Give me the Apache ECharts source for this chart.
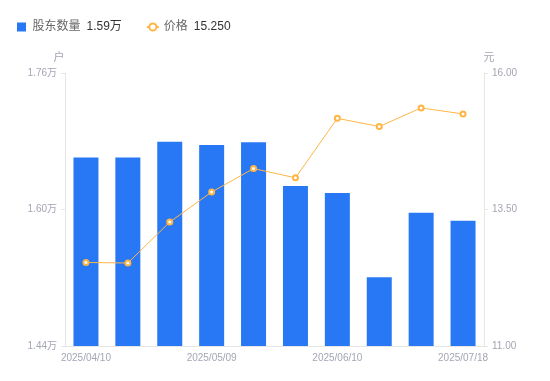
<!DOCTYPE html>
<html><head><meta charset="utf-8">
<script src="https://cdn.jsdelivr.net/npm/echarts@6/dist/echarts.min.js"></script>
<style>html,body{margin:0;padding:0;background:#fff}#c{width:550px;height:381px}</style>
</head><body><div id="c"></div>
<script>
const categories = ['2025/04/10','2025/04/18','2025/04/30','2025/05/09','2025/05/20','2025/05/30','2025/06/10','2025/06/20','2025/06/30','2025/07/18'];
const holders = [16610, 16610, 16795, 16756, 16788, 16276, 16193, 15205, 15963, 15869];
const prices = [12.53, 12.52, 13.27, 13.82, 14.25, 14.08, 15.17, 15.02, 15.36, 15.25];
const leftTicks = [14400, 16000, 17600];
const rightTicks = [11.00, 13.50, 16.00];

const font = 'Liberation Sans, Noto Sans CJK SC, sans-serif';
const chart = echarts.init(document.getElementById('c'), null, {renderer:'canvas'});
const lastH = holders[holders.length-1], lastP = prices[prices.length-1];
chart.setOption({
  animation:false,
  textStyle:{fontFamily:font},
  legend:{
    left:12, top:16, itemWidth:12, itemHeight:9, itemGap:24,
    textStyle:{fontFamily:font, fontSize:12, rich:{n:{color:'#666',fontSize:12,fontFamily:font},v:{color:'#333',fontSize:12,fontFamily:font,padding:[0,0,0,6]}}},
    data:[{name:'股东数量', icon:'path://M0,0h10v10h-10z'},{name:'价格'}],
    formatter:function(n){ return n==='股东数量' ? '{n|'+n+'}{v|'+(lastH/10000).toFixed(2)+'万}' : '{n|'+n+'}{v|'+lastP.toFixed(3)+'}'; }
  },
  grid:{left:65, right:66, top:73, bottom:35},
  xAxis:{
    type:'category', data:categories,
    axisLine:{lineStyle:{color:'#e6e6e6'}},
    axisTick:{show:false},
    axisLabel:{interval:2, color:'#a3a6b4', fontSize:10, margin:7, fontFamily:font}
  },
  yAxis:[{
    type:'value', min:leftTicks[0], max:leftTicks[2], interval:leftTicks[1]-leftTicks[0],
    name:'户', nameTextStyle:{color:'#a3a6b4', fontSize:11, padding:[0,0,0,-12]}, nameGap:10,
    axisLine:{show:true, lineStyle:{color:'#e6e6e6'}},
    axisTick:{show:true, length:4, lineStyle:{color:'#e6e6e6'}},
    splitLine:{show:false},
    axisLabel:{color:'#a3a6b4', fontSize:10, margin:8, fontFamily:font, formatter:v=>(v/10000).toFixed(2)+'万'}
  },{
    type:'value', min:rightTicks[0], max:rightTicks[2], interval:rightTicks[1]-rightTicks[0],
    name:'元', nameTextStyle:{color:'#a3a6b4', fontSize:11, padding:[0,0,0,10]}, nameGap:10,
    position:'right',
    axisLine:{show:true, lineStyle:{color:'#e6e6e6'}},
    axisTick:{show:true, length:4, lineStyle:{color:'#e6e6e6'}},
    splitLine:{show:false},
    axisLabel:{color:'#a3a6b4', fontSize:10, margin:8, fontFamily:font, formatter:v=>v.toFixed(2)}
  }],
  series:[{
    name:'股东数量', type:'bar', data:holders, yAxisIndex:0, barWidth:25,
    itemStyle:{color:'#2878f5'}
  },{
    name:'价格', type:'line', data:prices, yAxisIndex:1,
    symbol:'emptyCircle', symbolSize:5,
    lineStyle:{color:'#ffb545', width:1},
    itemStyle:{color:'#ffb545', borderWidth:2}
  }]
});
</script></body></html>
